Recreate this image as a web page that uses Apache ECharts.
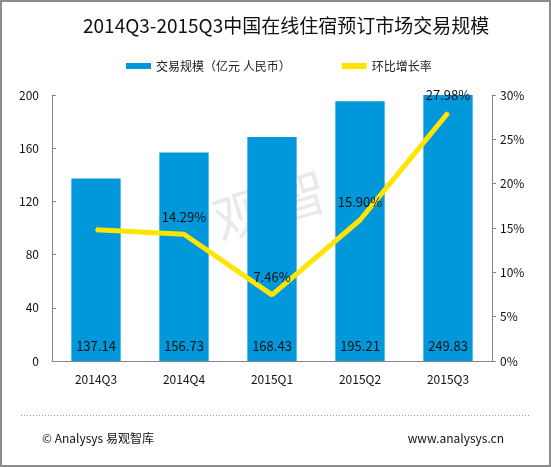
<!DOCTYPE html>
<html>
<head>
<meta charset="utf-8">
<script src="https://cdn.jsdelivr.net/npm/echarts@6/dist/echarts.min.js"></script>
<style>
    html, body { margin: 0; padding: 0; background: #fff; }
    #chart { width: 551px; height: 467px; }
</style>
</head>
<body>
<div id="chart"></div>
<script>
var categories = ['2014Q3', '2014Q4', '2015Q1', '2015Q2', '2015Q3'];
var volume = [137.14, 156.73, 168.43, 195.21, 249.83];
var growth = [14.8, 14.29, 7.46, 15.90, 27.98];
var growthLabels = ['', '14.29%', '7.46%', '15.90%', '27.98%'];
var leftTicks = [0, 40, 80, 120, 160, 200];
var rightTicks = [0, 5, 10, 15, 20, 25, 30];

var font = '"Noto Sans CJK SC", "Noto Sans", sans-serif';

var chart = echarts.init(document.getElementById('chart'));
var option = {
    animation: false,
    textStyle: { fontFamily: font },
    title: {
        text: '2014Q3-2015Q3中国在线住宿预订市场交易规模',
        left: 78,
        top: 11,
        textStyle: { fontSize: 19, fontWeight: 'normal', color: '#111', fontFamily: font }
    },
    legend: {
        top: 55,
        left: 121,
        itemGap: 51,
        itemWidth: 25,
        itemHeight: 6,
        textStyle: { fontSize: 12, color: '#222', fontFamily: font },
        data: [
            { name: '交易规模（亿元 人民币）', icon: 'rect' },
            { name: '环比增长率', icon: 'rect', itemStyle: { color: '#FFE400' } }
        ]
    },
    grid: { left: 52, right: 59, top: 95, bottom: 106 },
    xAxis: {
        type: 'category',
        data: categories,
        axisLine: { lineStyle: { color: '#868686', width: 1 } },
        axisTick: { show: false },
        axisLabel: { color: '#111', fontSize: 12, margin: 12 }
    },
    yAxis: [{
        type: 'value',
        min: leftTicks[0],
        max: leftTicks[leftTicks.length - 1],
        interval: 40,
        splitLine: { show: false },
        axisLine: { show: true, lineStyle: { color: '#868686' } },
        axisTick: { show: true, inside: true, length: 4, lineStyle: { color: '#868686' } },
        axisLabel: { color: '#111', fontSize: 12, margin: 13 }
    }, {
        type: 'value',
        min: rightTicks[0],
        max: rightTicks[rightTicks.length - 1],
        interval: 5,
        splitLine: { show: false },
        axisLine: { show: true, lineStyle: { color: '#868686' } },
        axisTick: { show: true, length: 4, lineStyle: { color: '#868686' } },
        axisLabel: { color: '#111', fontSize: 12, margin: 8, formatter: '{value}%' }
    }],
    graphic: [{
        type: 'text',
        z: -10,
        x: 270, y: 205,
        rotation: 17 * Math.PI / 180,
        style: {
            text: '易 观 智 库',
            font: '52px ' + font,
            fill: '#e9e9e9',
            align: 'center',
            verticalAlign: 'middle'
        }
    }, {
        type: 'line',
        shape: { x1: 21, y1: 415.5, x2: 529, y2: 415.5 },
        style: { stroke: '#9a9a9a', lineWidth: 1, lineDash: [1, 2] }
    }, {
        type: 'text',
        x: 42, y: 438,
        style: {
            text: '© Analysys 易观智库',
            font: '12px ' + font,
            fill: '#111',
            verticalAlign: 'middle'
        }
    }, {
        type: 'text',
        x: 504, y: 438,
        style: {
            text: 'www.analysys.cn',
            font: '12px ' + font,
            fill: '#111',
            align: 'right',
            verticalAlign: 'middle'
        }
    }, {
        type: 'rect',
        shape: { x: 1, y: 1, width: 549, height: 465 },
        style: { fill: 'none', stroke: '#8c8c8c', lineWidth: 2 }
    }],
    series: [{
        name: '交易规模（亿元 人民币）',
        type: 'bar',
        data: volume,
        barWidth: '56%',
        clip: true,
        itemStyle: { color: '#0098DA' },
        label: {
            show: true,
            position: 'insideBottom',
            distance: 8,
            color: '#111',
            fontSize: 13
        }
    }, {
        name: '环比增长率',
        type: 'line',
        yAxisIndex: 1,
        data: growth,
        symbol: 'circle',
        symbolSize: 2,
        showSymbol: true,
        lineStyle: { color: '#FFE400', width: 5 },
        itemStyle: { color: '#FFE400' },
        label: {
            show: true,
            position: 'top',
            distance: 10,
            color: '#111',
            fontSize: 13,
            formatter: function (p) { return growthLabels[p.dataIndex]; }
        }
    }]
};
chart.setOption(option);
</script>
</body>
</html>
